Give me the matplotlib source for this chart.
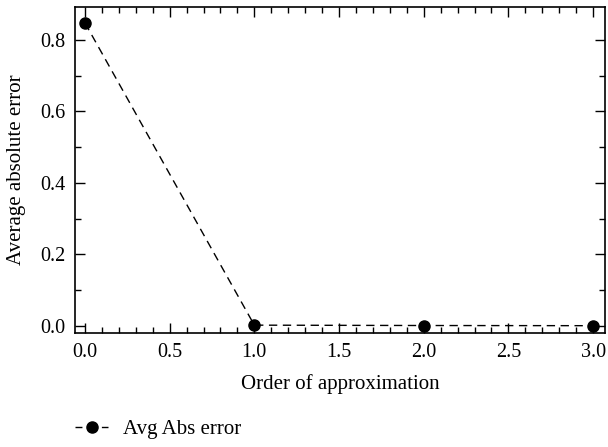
import matplotlib
matplotlib.use("Agg")
from matplotlib import pyplot as plt
from matplotlib.ticker import MultipleLocator

order = [0, 1, 2, 3]
avg_abs_error = [0.848, 0.002, 0.001, 0.0005]

plt.rcParams['font.family'] = ['Liberation Serif', 'DejaVu Serif']
plt.rcParams['font.size'] = 15

fig = plt.figure(figsize=(6.08, 4.47), dpi=100)
ax = fig.add_axes([0.123, 0.255, 0.872, 0.729])

ax.plot(order, avg_abs_error, color='black', linewidth=1.0, linestyle=(0, (6, 4)),
        marker='o', markersize=8, label='Avg Abs error')

ax.set_xlim(-0.06, 3.07)
ax.set_ylim(-0.02, 0.892)
ax.xaxis.set_major_locator(MultipleLocator(0.5))
ax.xaxis.set_minor_locator(MultipleLocator(0.1))
ax.yaxis.set_major_locator(MultipleLocator(0.2))
ax.yaxis.set_minor_locator(MultipleLocator(0.1))
ax.xaxis.set_major_formatter(plt.FormatStrFormatter('%.1f'))
ax.yaxis.set_major_formatter(plt.FormatStrFormatter('%.1f'))
ax.tick_params(which='both', direction='in', top=True, right=True, width=1,
               labelsize=14.5)
ax.tick_params(which='major', length=7, pad=7)
ax.tick_params(which='minor', length=4)
for s in ax.spines.values():
    s.set_linewidth(1.2)

ax.set_xlabel("Order of approximation", labelpad=9)
ax.set_ylabel("Average absolute error", labelpad=10)

leg = ax.legend(loc='center left', bbox_to_anchor=(-0.015, -0.295), frameon=False,
                handlelength=1.6, handletextpad=0.7, borderaxespad=0)
leg.get_lines()[0].set_linestyle((0, (5, 14, 5, 14)))

fig.savefig("out.png", dpi=100)
